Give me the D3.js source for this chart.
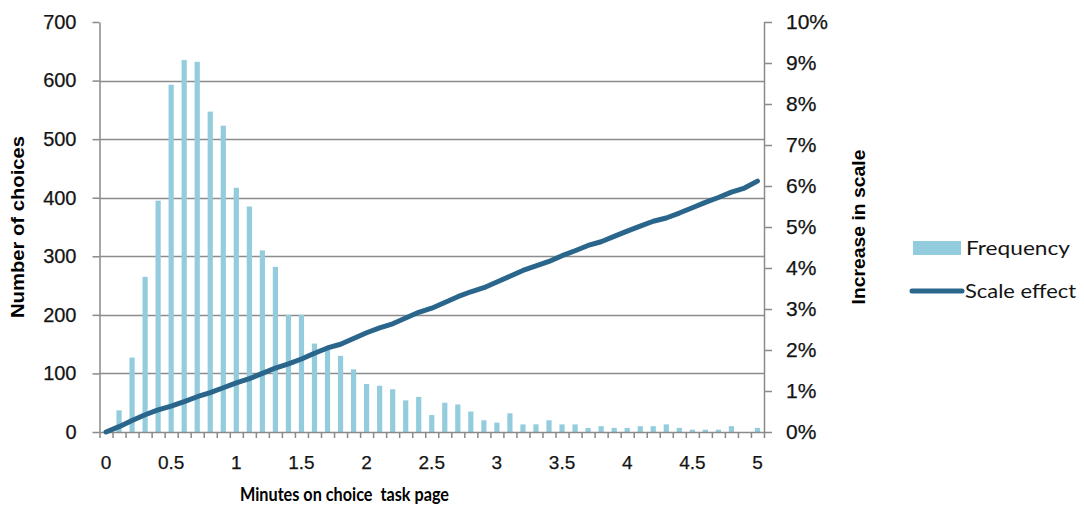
<!DOCTYPE html>
<html>
<head>
<meta charset="utf-8">
<script src="https://cdn.jsdelivr.net/npm/d3@7"></script>
<style>
  html, body { margin: 0; padding: 0; background: #ffffff; }
  svg { display: block; }
</style>
</head>
<body>
<svg id="chart" width="1084" height="511"></svg>
<script>
// ---- data ----
const minutes = [0, 0.1, 0.2, 0.3, 0.4, 0.5, 0.6, 0.7, 0.8, 0.9,
                 1, 1.1, 1.2, 1.3, 1.4, 1.5, 1.6, 1.7, 1.8, 1.9,
                 2, 2.1, 2.2, 2.3, 2.4, 2.5, 2.6, 2.7, 2.8, 2.9,
                 3, 3.1, 3.2, 3.3, 3.4, 3.5, 3.6, 3.7, 3.8, 3.9,
                 4, 4.1, 4.2, 4.3, 4.4, 4.5, 4.6, 4.7, 4.8, 4.9, 5];
const frequency = [0, 37, 127, 265, 395, 593, 635, 632, 547, 523,
                   417, 385, 310, 282, 200, 200, 151, 140, 130, 107,
                   82, 79, 73, 54, 60, 29, 50, 47, 35, 20,
                   16, 32, 13, 13, 20, 13, 13, 7, 10, 7,
                   7, 10, 10, 13, 7, 4, 4, 4, 10, 0, 7];
const scaleEffect = [0.0000, 0.0013, 0.0028, 0.0042, 0.0054, 0.0063, 0.0074, 0.0086, 0.0096, 0.0108,
                     0.0120, 0.0130, 0.0143, 0.0156, 0.0166, 0.0178, 0.0192, 0.0205, 0.0214, 0.0228,
                     0.0242, 0.0254, 0.0264, 0.0278, 0.0292, 0.0302, 0.0316, 0.0330, 0.0342, 0.0352,
                     0.0366, 0.0380, 0.0394, 0.0405, 0.0416, 0.0430, 0.0442, 0.0455, 0.0464, 0.0477,
                     0.0490, 0.0502, 0.0514, 0.0522, 0.0534, 0.0547, 0.0560, 0.0572, 0.0585, 0.0595, 0.0612];
const xLabelValues = [0, 0.5, 1, 1.5, 2, 2.5, 3, 3.5, 4, 4.5, 5];
const leftTicks = [0, 100, 200, 300, 400, 500, 600, 700];
const rightTicks = [0, 0.01, 0.02, 0.03, 0.04, 0.05, 0.06, 0.07, 0.08, 0.09, 0.10];
const seriesNames = ["Frequency", "Scale effect"];
const axisTitles = { x: "Minutes on choice  task page", yLeft: "Number of choices", yRight: "Increase in scale" };

// ---- layout ----
const plotL = 99.5, plotR = 764, plotT = 22, plotB = 432;
const barColor = "#93cddd", lineColor = "#2a658b", gridColor = "#8c8c8c", axisColor = "#8a8a8a", textColor = "#141414";
const numFont = "'Liberation Sans', Arial, sans-serif";
const lblFont = "Lato, 'Open Sans', sans-serif";

const svg = d3.select("#chart");

const x = d3.scaleBand().domain(minutes).range([plotL, plotR]).paddingInner(0).paddingOuter(0);
const xEdge = d3.scaleLinear().domain([0, minutes.length]).range([plotL, plotR]);
const yL = d3.scaleLinear().domain([0, 700]).range([plotB, plotT]);
const yR = d3.scaleLinear().domain([0, 0.10]).range([plotB, plotT]);

// gridlines
svg.append("g").selectAll("line")
  .data(leftTicks.filter(t => t > 0 && t < 700))
  .join("line")
  .attr("x1", plotL).attr("x2", plotR)
  .attr("y1", d => Math.round(yL(d)) + 0.5).attr("y2", d => Math.round(yL(d)) + 0.5)
  .attr("stroke", gridColor).attr("stroke-width", 1.4);

// bars
const bw = x.bandwidth() * 0.4;
svg.append("g").selectAll("rect")
  .data(minutes.map((m, i) => ({ m, v: frequency[i] })).filter(d => d.v > 0))
  .join("rect")
  .attr("x", d => x(d.m) + x.bandwidth() / 2 - bw / 2)
  .attr("width", bw)
  .attr("y", d => yL(d.v))
  .attr("height", d => yL(0) - yL(d.v))
  .attr("fill", barColor);

// axes
function styleAxis(g) {
  g.selectAll(".domain").attr("stroke", axisColor).attr("stroke-width", 1.5);
  g.selectAll(".tick line").attr("stroke", axisColor).attr("stroke-width", 1.5);
  g.selectAll("text").attr("fill", textColor).attr("stroke", textColor).attr("stroke-width", 0.25);
}

const gL = svg.append("g").attr("transform", `translate(${plotL},0)`)
  .call(d3.axisLeft(yL).tickValues(leftTicks).tickSize(7).tickSizeOuter(0).tickPadding(16));
styleAxis(gL);
gL.selectAll("text").attr("font-family", numFont).attr("font-size", 20);

const gR = svg.append("g").attr("transform", `translate(${plotR},0)`)
  .call(d3.axisRight(yR).tickValues(rightTicks).tickSize(8).tickSizeOuter(0).tickPadding(14).tickFormat(d3.format(".0%")));
styleAxis(gR);
gR.selectAll("text").attr("font-family", numFont).attr("font-size", 21);

const gXT = svg.append("g").attr("transform", `translate(0,${plotB})`)
  .call(d3.axisBottom(xEdge).tickValues(d3.range(minutes.length + 1)).tickSize(6).tickSizeOuter(0).tickFormat(""));
styleAxis(gXT);

const gX = svg.append("g").attr("transform", `translate(0,${plotB})`)
  .call(d3.axisBottom(x).tickValues(xLabelValues).tickSize(0).tickPadding(24).tickFormat(d => String(d)));
gX.select(".domain").remove();
gX.selectAll("text").attr("font-family", numFont).attr("font-size", 19)
  .attr("fill", textColor).attr("stroke", textColor).attr("stroke-width", 0.25);

// line
const line = d3.line()
  .x((d, i) => x(minutes[i]) + x.bandwidth() / 2)
  .y(d => yR(d));
svg.append("path")
  .datum(scaleEffect)
  .attr("d", line)
  .attr("fill", "none")
  .attr("stroke", lineColor)
  .attr("stroke-width", 5)
  .attr("stroke-linejoin", "round")
  .attr("stroke-linecap", "round");

// axis titles
svg.append("text")
  .attr("transform", `translate(24,227) rotate(-90)`)
  .attr("text-anchor", "middle")
  .attr("font-family", numFont).attr("font-weight", "bold").attr("font-size", 19)
  .attr("textLength", 182).attr("lengthAdjust", "spacingAndGlyphs")
  .attr("fill", "#000")
  .text(axisTitles.yLeft);

svg.append("text")
  .attr("transform", `translate(865,227) rotate(-90)`)
  .attr("text-anchor", "middle")
  .attr("font-family", numFont).attr("font-weight", "bold").attr("font-size", 19)
  .attr("textLength", 155).attr("lengthAdjust", "spacingAndGlyphs")
  .attr("fill", "#000")
  .text(axisTitles.yRight);

svg.append("text")
  .attr("x", 344.5).attr("y", 501)
  .attr("text-anchor", "middle")
  .style("white-space", "pre")
  .attr("font-family", lblFont).attr("font-weight", "bold").attr("font-size", 18)
  .attr("textLength", 209).attr("lengthAdjust", "spacingAndGlyphs")
  .attr("fill", "#000")
  .text(axisTitles.x);

// legend
const lg = svg.append("g");
lg.append("rect").attr("x", 913).attr("y", 241).attr("width", 48).attr("height", 14).attr("fill", barColor);
lg.append("text").attr("x", 966).attr("y", 255)
  .attr("font-family", lblFont).attr("font-size", 20).attr("fill", textColor)
  .attr("textLength", 104).attr("lengthAdjust", "spacingAndGlyphs")
  .text(seriesNames[0]);
lg.append("line").attr("x1", 912).attr("x2", 962).attr("y1", 291).attr("y2", 291)
  .attr("stroke", lineColor).attr("stroke-width", 5).attr("stroke-linecap", "round");
lg.append("text").attr("x", 965).attr("y", 298)
  .attr("font-family", lblFont).attr("font-size", 20).attr("fill", textColor)
  .attr("textLength", 111).attr("lengthAdjust", "spacingAndGlyphs")
  .text(seriesNames[1]);
</script>
</body>
</html>
